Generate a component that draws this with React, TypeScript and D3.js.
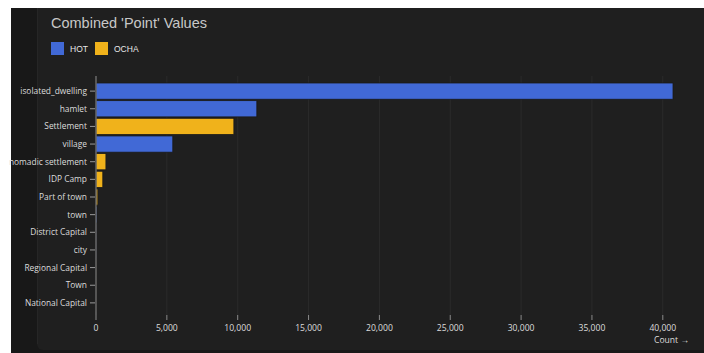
import React from "react";
import * as d3 from "d3";

const categories = [
  "isolated_dwelling",
  "hamlet",
  "Settlement",
  "village",
  "nomadic settlement",
  "IDP Camp",
  "Part of town",
  "town",
  "District Capital",
  "city",
  "Regional Capital",
  "Town",
  "National Capital",
];
const sources = ["HOT", "HOT", "OCHA", "HOT", "OCHA", "OCHA", "OCHA", "HOT", "HOT", "HOT", "OCHA", "OCHA", "OCHA"];
const counts = [40720, 11350, 9730, 5420, 700, 480, 130, 70, 10, 8, 6, 5, 3];
const seriesNames = ["HOT", "OCHA"];
const seriesColors = ["#4169d6", "#f0b21b"];
const xTicks = [0, 5000, 10000, 15000, 20000, 25000, 30000, 35000, 40000];

const W = 704;
const H = 353;
const FONT = "'Open Sans', 'Noto Sans', sans-serif";

export default function App() {
  const x = d3.scaleLinear().domain([0, d3.max(counts) as number]).range([96, 673]);
  const y = d3.scaleBand<string>().domain(categories).range([83, 311]).paddingInner(0.08).paddingOuter(0);
  const color = d3.scaleOrdinal<string, string>().domain(seriesNames).range(seriesColors);
  const fmt = d3.format(",");
  const gridTop = 76;
  const axisBottom = 320;

  return (
    <svg width={W} height={H} style={{ position: "absolute", left: 0, top: 0, display: "block" }} fontFamily={FONT}>
      <rect x={0} y={0} width={W} height={H} fill="#ffffff" />
      <rect x={11} y={8} width={W - 11} height={H - 8} fill="#181818" />
      <rect x={37} y={8} width={W - 37 + 10} height={342} rx={6} fill="#1f1f1f" />
      <rect x={37} y={8} width={20} height={20} fill="#1f1f1f" />
      <line x1={37.5} x2={37.5} y1={8} y2={344} stroke="#262626" />

      <text x={51} y={28} fill="#c8c8c8" fontSize={14.5} fontFamily="'Liberation Sans', Arial, sans-serif">
        Combined 'Point' Values
      </text>
      {seriesNames.map((s, i) => (
        <g key={s} transform={`translate(${51 + i * 44},42)`}>
          <rect width={13} height={13} fill={color(s)} />
          <text x={19} y={10} fill="#e8e8e8" fontSize={8.5} fontFamily="'Liberation Sans', Arial, sans-serif">
            {s}
          </text>
        </g>
      ))}

      {xTicks.map((t) => (
        <line key={"g" + t} x1={x(t)} x2={x(t)} y1={gridTop} y2={315} stroke="#2b2b2b" strokeWidth={1} />
      ))}

      {categories.map((c, i) => (
        <rect
          key={c}
          x={x(0)}
          y={y(c)}
          width={Math.max(0, x(counts[i]) - x(0))}
          height={y.bandwidth()}
          fill={color(sources[i])}
          stroke="#1a1a1a"
          strokeWidth={0.8}
        />
      ))}

      <line x1={x(0)} x2={x(0)} y1={gridTop} y2={axisBottom} stroke="#7a7a7a" strokeWidth={1.2} />

      {categories.map((c) => {
        const cy = (y(c) as number) + y.bandwidth() / 2;
        return (
          <g key={"t" + c}>
            <line x1={90} x2={95} y1={cy} y2={cy} stroke="#9a9a9a" />
            <text x={87} y={cy} dy="0.35em" textAnchor="end" fill="#dcdcdc" fontSize={8.4}>
              {c}
            </text>
          </g>
        );
      })}

      {xTicks.map((t) => (
        <g key={"x" + t}>
          {t !== 0 && <line x1={x(t)} x2={x(t)} y1={315} y2={320} stroke="#8a8a8a" />}
          <text x={x(t)} y={331} textAnchor="middle" fill="#dcdcdc" fontSize={8.6}>
            {fmt(t)}
          </text>
        </g>
      ))}
      <text x={689} y={342.5} textAnchor="end" fill="#dcdcdc" fontSize={8.6}>
        Count →
      </text>
    </svg>
  );
}
